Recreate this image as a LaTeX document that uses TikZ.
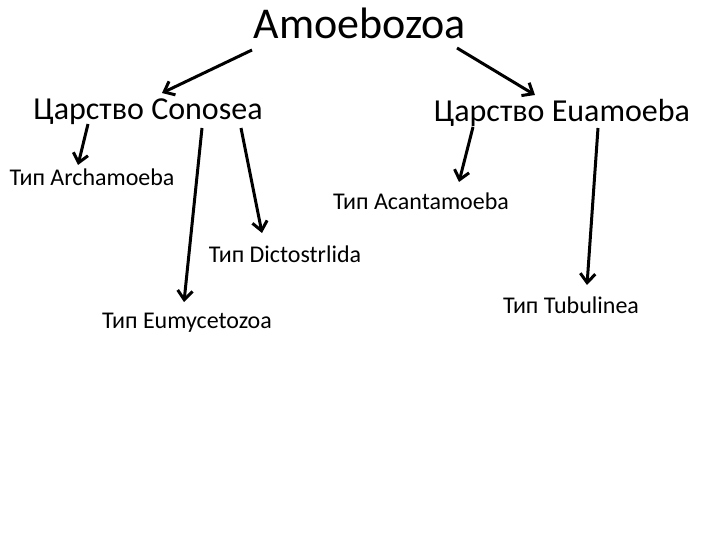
\documentclass[tikz,border=0pt]{standalone}
\usepackage{fontspec}
\setmainfont{Carlito}
\usetikzlibrary{arrows.meta}
\tikzset{top/.style={inner sep=0pt,anchor=base,font=\fontsize{44}{52}\selectfont}}
\tikzset{kingdom/.style={inner sep=0pt,anchor=base,font=\fontsize{32}{38}\selectfont}}
\tikzset{phylum/.style={inner sep=0pt,anchor=base,font=\fontsize{24}{29}\selectfont}}
\tikzset{arr/.style={line width=3pt,-{Straight Barb[length=9pt,width=15pt,line width=3pt]}}}

\begin{document}
\begin{tikzpicture}[x=1pt,y=-1pt]
                    \useasboundingbox (0,0) rectangle (720,540);
                    \node[top] (amoeb) at (360,39) {Amoebozoa};
                    \node[kingdom] (conos) at (148,120) {Царство Conosea};
                    \node[kingdom] (euam) at (562,122) {Царство Euamoeba};

                    \node[phylum] (archa) at (92,186) {Тип Archamoeba};
                    \node[phylum] (acant) at (421,210) {Тип Acantamoeba};
                    \node[phylum] (dicto) at (285,262) {Тип Dictostrlida};
                    \node[phylum] (eumyc) at (187,328) {Тип Eumycetozoa};
                    \node[phylum] (tubul) at (571,313) {Тип Tubulinea};

                    \draw[arr] ([shift={(-108,11)}]amoeb.base) -- ([shift={(14,-27)}]conos.base);
                    \draw[arr] ([shift={(97,9)}]amoeb.base) -- ([shift={(-27,-27)}]euam.base);
                    \draw[arr] ([shift={(-60,4)}]conos.base) -- ([shift={(-14,-21)}]archa.base);
                    \draw[arr] ([shift={(54,8)}]conos.base) -- ([shift={(-3,-26)}]eumyc.base);
                    \draw[arr] ([shift={(93,8)}]conos.base) -- ([shift={(-23,-29)}]dicto.base);
                    \draw[arr] ([shift={(-89,5)}]euam.base) -- ([shift={(38,-28)}]acant.base);
                    \draw[arr] ([shift={(36,6)}]euam.base) -- ([shift={(16,-28)}]tubul.base);
                \end{tikzpicture}
\end{document}
